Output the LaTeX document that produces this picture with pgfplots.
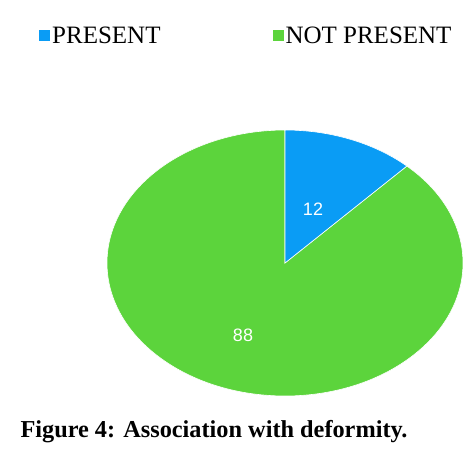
\documentclass[border=0pt]{standalone}
\usepackage{pgfplots}
\pgfplotsset{compat=1.18}
\usepackage{pgfplotstable}
\usepackage{fontspec}
\setmainfont{Liberation Serif}
\newfontfamily\labelfont{Liberation Sans}
\definecolor{presentblue}{HTML}{0A9CF5}
\definecolor{notgreen}{HTML}{5CD43C}

% share of cases (percent)
\pgfplotstableread{
label value
PRESENT 12
NOTPRESENT 88
}\deformity

\begin{document}
\begin{tikzpicture}
\pgfplotstablegetelem{0}{value}\of\deformity \let\vpresent\pgfplotsretval
\pgfplotstablegetelem{1}{value}\of\deformity \let\vnot\pgfplotsretval
\pgfmathsetmacro{\aend}{90-3.6*\vpresent}
\begin{axis}[
    width=468pt,height=459pt,scale only axis,
    xmin=0,xmax=468,ymin=0,ymax=459,
    hide axis,clip=false,
    legend columns=2,
    legend style={draw=none,fill=none,at={(axis cs:36,423)},anchor=west,
        font=\fontsize{25}{27}\selectfont,
        /tikz/column 2/.style={column sep=110pt}},
    legend image code/.code={\fill[#1] (0pt,-5.5pt) rectangle (11pt,5.5pt);},
]
\addlegendimage{fill=presentblue,draw=none}
\addlegendentry{PRESENT}
\addlegendimage{fill=notgreen,draw=none}
\addlegendentry{NOT PRESENT}

\fill[notgreen,draw=white,line width=0.6pt] (axis cs:285,196) -- (axis cs:{285+178*cos(\aend)},{196+133*sin(\aend)})
    arc[start angle=\aend,end angle=-270,x radius=178pt,y radius=133pt] -- cycle;
\fill[presentblue,draw=white,line width=0.6pt] (axis cs:285,196) -- (axis cs:285,329)
    arc[start angle=90,end angle=\aend,x radius=178pt,y radius=133pt] -- cycle;

\node[text=white,font=\labelfont\fontsize{18}{18}\selectfont] at (axis cs:313,250) {\vpresent};
\node[text=white,font=\labelfont\fontsize{18}{18}\selectfont] at (axis cs:243,124) {\vnot};

\node[anchor=west,font=\bfseries\fontsize{24.3}{26}\selectfont] at (axis cs:17,27) {Figure 4: Association with deformity.};
\end{axis}
% page = the axis box
\pgfresetboundingbox
\path (current axis.south west) rectangle (current axis.north east);
\end{tikzpicture}
\end{document}
